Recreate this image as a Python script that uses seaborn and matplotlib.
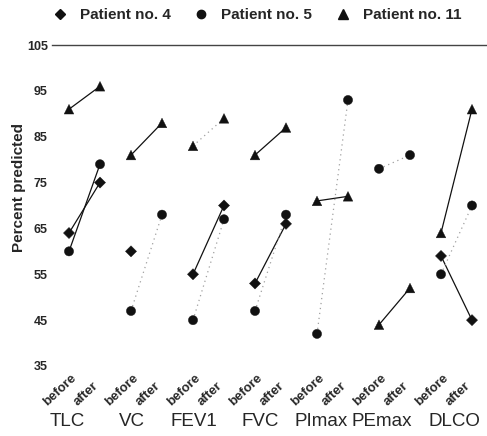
import numpy as np
import pandas as pd
import matplotlib
matplotlib.use("Agg")
import matplotlib.pyplot as plt
from matplotlib.lines import Line2D
import seaborn as sns

measures = ["TLC", "VC", "FEV1", "FVC", "PImax", "PEmax", "DLCO"]
phases = ["before", "after"]
patients = ["Patient no. 4", "Patient no. 5", "Patient no. 11"]

p4_before = [64, 60, 55, 53, np.nan, np.nan, 59]
p4_after = [75, np.nan, 70, 66, np.nan, np.nan, 45]
p5_before = [60, 47, 45, 47, 42, 78, 55]
p5_after = [79, 68, 67, 68, 93, 81, 70]
p11_before = [91, 81, 83, 81, 71, 44, 64]
p11_after = [96, 88, 89, 87, 72, 52, 91]

# line style of each before/after connection (per patient, per measure)
p4_style = ["solid", "solid", "solid", "solid", "solid", "solid", "solid"]
p5_style = ["solid", "dotted", "dotted", "dotted", "dotted", "dotted", "dotted"]
p11_style = ["solid", "solid", "dotted", "solid", "solid", "solid", "solid"]

# layout only: horizontal nudge of the measure names (in tick units)
name_nudge = [-0.05, 0.03, 0.03, 0.16, 0.13, 0.1, 0.42]

sns.set_theme(style="white")
plt.rcParams["font.family"] = ["Liberation Sans", "DejaVu Sans"]

rows = []
series = [(patients[0], p4_before, p4_after, p4_style),
          (patients[1], p5_before, p5_after, p5_style),
          (patients[2], p11_before, p11_after, p11_style)]
for pname, bef, aft, sty in series:
    for m, meas in enumerate(measures):
        for k, (ph, vals) in enumerate(zip(phases, (bef, aft))):
            rows.append(dict(patient=pname, measure=meas, phase=ph,
                             x=2 * m + k, value=vals[m], ls=sty[m],
                             pair=f"{pname}-{meas}"))
df = pd.DataFrame(rows)

fig = plt.figure(figsize=(4.87, 4.36), dpi=100)
ax = fig.add_axes([52 / 487, 1 - 366 / 436, 1 - 52 / 487, (366 - 45) / 436])

complete = df.groupby("pair")["value"].transform(lambda s: s.notna().all())
lines = df[complete]
solid = lines[lines["ls"] == "solid"]
dotted = lines[lines["ls"] == "dotted"]
sns.lineplot(data=solid, x="x", y="value", units="pair", estimator=None,
             color="#111111", linewidth=0.9, ax=ax, legend=False, sort=False)
sns.lineplot(data=dotted, x="x", y="value", units="pair", estimator=None,
             color="#a0a0a0", linewidth=0.9, ax=ax, legend=False, sort=False,
             dashes=False, linestyle=(0, (1, 3)))

markers = {patients[0]: "D", patients[1]: "o", patients[2]: "^"}
pts = df.dropna(subset=["value"])
sns.scatterplot(data=pts, x="x", y="value", style="patient",
                style_order=patients, markers=markers,
                size="patient", size_order=patients,
                sizes={patients[0]: 32, patients[1]: 44, patients[2]: 48},
                color="#111111", edgecolor="#111111", linewidth=0.3,
                ax=ax, zorder=3, legend=False)

ax.set_xlim(-17 / 31, (487 - 69) / 31)
ax.set_ylim(35, 105)
ax.set_yticks(np.arange(35, 106, 10))
ax.set_yticklabels([str(v) for v in range(35, 106, 10)], fontsize=9,
                   fontweight="bold")
ax.set_xticks(np.arange(2 * len(measures)))
ax.set_xticklabels([])
ax.tick_params(axis="y", length=0, pad=3)
ax.tick_params(axis="x", length=0)
for sp in ["left", "right", "bottom"]:
    ax.spines[sp].set_visible(False)
ax.spines["top"].set_color("#444444")
ax.spines["top"].set_linewidth(1)
ax.set_xlabel("")
ax.set_ylabel("Percent predicted", fontsize=11, fontweight="bold")
ax.yaxis.set_label_coords((26 - 52) / 435, (366 - 187) / 321)

xt = ax.get_xaxis_transform()
for i, ph in enumerate(phases * len(measures)):
    ax.text(i - 0.72, -0.124, ph, transform=xt, rotation=43,
            rotation_mode="anchor", ha="left", va="baseline",
            fontsize=9.5, fontweight="bold")

for m, meas in enumerate(measures):
    ax.text(2 * m + name_nudge[m], -0.174, meas, transform=xt,
            ha="center", va="center", fontsize=13.5, clip_on=False)

handles = [Line2D([], [], linestyle="none", marker=markers[p],
                  color="#111111", markersize=ms)
           for p, ms in zip(patients, [5.0, 6.0, 6.5])]
fig.legend(handles, patients, loc="center left",
           bbox_to_anchor=(54 / 487, 1 - 15 / 436), ncol=3, frameon=False,
           borderpad=0, borderaxespad=0, handlelength=0.8,
           handletextpad=0.9, columnspacing=1.6,
           prop={"weight": "bold", "size": 11})

fig.savefig("out.png", dpi=100)
